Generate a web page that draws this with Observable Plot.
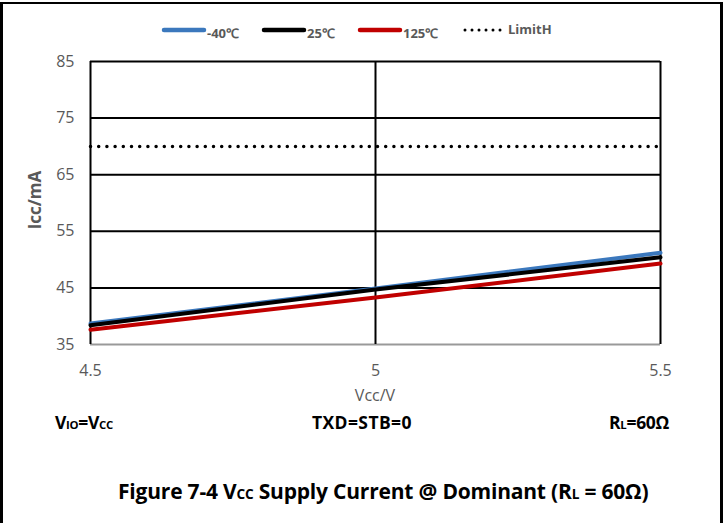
<!DOCTYPE html>
<html>
<head>
<meta charset="utf-8">
<script src="https://cdn.jsdelivr.net/npm/d3@7"></script>
<script src="https://cdn.jsdelivr.net/npm/@observablehq/plot@0.6"></script>
<style>
  html, body { margin: 0; padding: 0; background: #fff; }
  body { width: 726px; height: 523px; position: relative; overflow: hidden; font-family: "Open Sans", "Noto Sans", sans-serif; }
  #frame { position: absolute; left: 0; top: 2px; width: 717px; height: 530px; border-left: 3px solid #000; border-top: 2px solid #000; border-right: 3px solid #000; }
  #legend { position: absolute; top: 21px; left: 0; width: 726px; height: 22px; }
  #chart { position: absolute; left: 0; top: 45px; }
  .ann { position: absolute; top: 410px; font-weight: bold; font-size: 17.5px; color: #000; font-family: "Open Sans", sans-serif; letter-spacing: -0.3px; }
  .ann sub, .cap sub { font-size: 0.65em; vertical-align: baseline; }
  #caption { position: absolute; top: 477px; left: 118px; white-space: nowrap; font-weight: bold; font-size: 21px; font-family: "Open Sans", sans-serif; color: #000; letter-spacing: -0.2px; }
</style>
</head>
<body>
<div id="frame"></div>
<svg id="legend" width="726" height="22"></svg>
<div id="chart"></div>
<div class="ann" style="left:55px;">V<sub>IO</sub>=V<sub>CC</sub></div>
<div class="ann" style="left:312px;letter-spacing:0.4px;">TXD=STB=0</div>
<div class="ann" style="right:57px;">R<sub>L</sub>=60Ω</div>
<div id="caption" class="cap">Figure 7-4 V<sub>CC</sub> Supply Current @ Dominant (R<sub>L</sub> = 60Ω)</div>
<script>
const vcc = [4.5, 5, 5.5];
const icc_m40 = [38.7, 44.9, 51.2];
const icc_25 = [38.4, 44.7, 50.4];
const icc_125 = [37.6, 43.3, 49.3];
const limitH = 70;
const seriesNames = ["-40℃", "25℃", "125℃"];
const seriesColors = ["#3b78bd", "#000000", "#c00000"];
const yTicks = [35, 45, 55, 65, 75, 85];
const xTicks = [4.5, 5, 5.5];
const xTitle = "Vcc/V";
const yTitle = "Icc/mA";

const rows = [];
[icc_m40, icc_25, icc_125].forEach((arr, i) => arr.forEach((v, j) => rows.push({x: vcc[j], y: v, s: seriesNames[i]})));

const chart = Plot.plot({
  width: 726,
  height: 360,
  marginLeft: 90,
  marginRight: 66,
  marginTop: 16,
  marginBottom: 61,
  style: {fontFamily: "Open Sans, sans-serif", fontSize: "16px", color: "#595959", background: "transparent"},
  x: {domain: [4.5, 5.5], ticks: xTicks, tickFormat: d => String(d)},
  y: {domain: [35, 85], ticks: yTicks},
  color: {domain: seriesNames, range: seriesColors},
  marks: [
    Plot.ruleY([45, 55, 65, 75, 85], {stroke: "#000", strokeWidth: 2}),
    Plot.ruleY([35], {stroke: "#999", strokeWidth: 2}),
    Plot.ruleX(xTicks, {stroke: "#000", strokeWidth: 2}),
    Plot.lineY(vcc.map(x => ({x, y: limitH})), {x: "x", y: "y", stroke: "#000", strokeWidth: 3.5, strokeDasharray: "0,8.2", strokeLinecap: "round"}),
    Plot.line(rows, {x: "x", y: "y", stroke: "s", z: "s", strokeWidth: 4}),
    Plot.axisX({ticks: xTicks, tickSize: 0, tickPadding: 20, tickFormat: d => String(d), label: null, fill: "#595959"}),
    Plot.axisY({ticks: yTicks, tickSize: 0, tickPadding: 16, label: null, fill: "#595959"})
  ]
});
document.getElementById("chart").appendChild(chart);

// axis titles
const svg = d3.select(chart);
svg.append("text").attr("x", 375).attr("y", 356).attr("text-anchor", "middle")
  .attr("font-size", 16).attr("fill", "#595959").text(xTitle);
svg.append("text").attr("transform", "translate(41,155) rotate(-90)").attr("text-anchor", "middle")
  .attr("font-size", 17).attr("font-weight", "bold").attr("fill", "#595959").text(yTitle);

// legend
const leg = d3.select("#legend");
const items = [
  {name: seriesNames[0], color: seriesColors[0], x: 162, dash: null},
  {name: seriesNames[1], color: seriesColors[1], x: 262, dash: null},
  {name: seriesNames[2], color: seriesColors[2], x: 358, dash: null},
  {name: "LimitH", color: "#000", x: 463, dash: "0,7"}
];
items.forEach(it => {
  const g = leg.append("g");
  g.append("line").attr("x1", it.x + 2).attr("x2", it.x + 42).attr("y1", 9).attr("y2", 9)
    .attr("stroke", it.color).attr("stroke-width", it.dash ? 3 : 4.5).attr("stroke-linecap", "round")
    .attr("stroke-dasharray", it.dash);
  g.append("text").attr("x", it.x + 45).attr("y", it.dash ? 13 : 17).text(it.name)
    .attr("font-size", 13).attr("font-weight", "bold").attr("fill", "#595959")
    .attr("font-family", "Open Sans, sans-serif");
});
</script>
</body>
</html>
